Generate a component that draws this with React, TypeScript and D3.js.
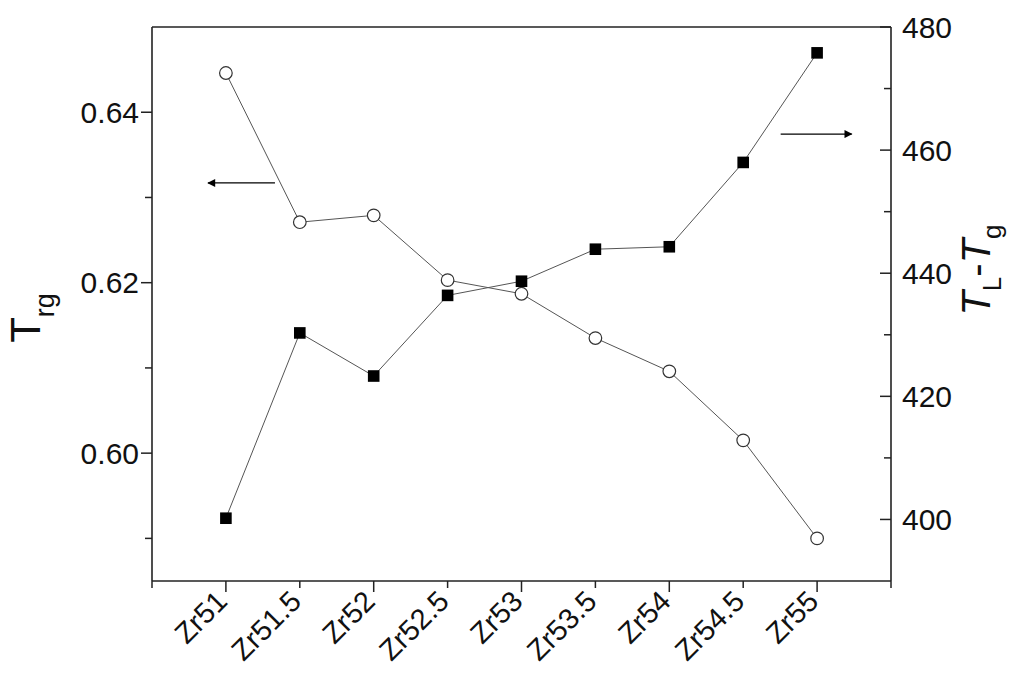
import React from "react";
import * as d3 from "d3";

const categories = ["Zr51", "Zr51.5", "Zr52", "Zr52.5", "Zr53", "Zr53.5", "Zr54", "Zr54.5", "Zr55"];
const trgValues = [0.6446, 0.6271, 0.6279, 0.6203, 0.6187, 0.6135, 0.6096, 0.6015, 0.59];
const dtValues = [400.2, 430.3, 423.3, 436.4, 438.7, 443.9, 444.3, 458.0, 475.8];
const leftMajorTicks = [0.6, 0.62, 0.64];
const leftMinorTicks = [0.59, 0.61, 0.63];
const rightMajorTicks = [400, 420, 440, 460, 480];
const rightMinorTicks = [410, 430, 450, 470];

const W = 1024;
const H = 697;
const M = { left: 152, right: 891, top: 27, bottom: 581 };
const FONT = "'Liberation Sans', Arial, sans-serif";

export default function App() {
  const x = d3.scaleLinear().domain([-1, categories.length]).range([M.left, M.right]);
  const yL = d3.scaleLinear().domain([0.585, 0.65]).range([M.bottom, M.top]);
  const yR = d3.scaleLinear().domain([390, 480]).range([M.bottom, M.top]);

  const lineL = d3.line<number>().x((_, i) => x(i)).y((d) => yL(d));
  const lineR = d3.line<number>().x((_, i) => x(i)).y((d) => yR(d));

  const xTicks = d3.range(-1, categories.length + 1);

  return (
    <svg width={W} height={H} style={{ position: "absolute", left: 0, top: 0, background: "#fff" }} fontFamily={FONT}>
      <defs>
        <marker id="ah" viewBox="0 0 10 10" refX="9" refY="5" markerWidth="14" markerHeight="8" markerUnits="userSpaceOnUse" orient="auto">
          <path d="M0,0 L10,5 L0,10 z" fill="#000" />
        </marker>
      </defs>

      {/* frame */}
      <line x1={M.left} x2={M.right} y1={M.top} y2={M.top} stroke="#222" strokeWidth={1.6} />
      <line x1={M.left} x2={M.right} y1={M.bottom} y2={M.bottom} stroke="#222" strokeWidth={1.6} />
      <line x1={M.left} x2={M.left} y1={M.top} y2={M.bottom} stroke="#222" strokeWidth={1.6} />
      <line x1={M.right} x2={M.right} y1={M.top} y2={M.bottom} stroke="#222" strokeWidth={1.6} />

      {/* x ticks */}
      {xTicks.map((t) => {
        const major = t % 2 === 0;
        return <line key={"xt" + t} x1={x(t)} x2={x(t)} y1={M.bottom} y2={M.bottom + (major ? 11 : 7)} stroke="#222" strokeWidth={1.5} />;
      })}
      {categories.map((c, i) => (
        <text key={c} transform={`translate(${x(i) + 3},${M.bottom + 22}) rotate(-45)`} textAnchor="end" fontSize={29} fill="#111">
          {c}
        </text>
      ))}

      {/* left axis */}
      {leftMajorTicks.map((t) => (
        <g key={"lt" + t}>
          <line x1={M.left - 11} x2={M.left} y1={yL(t)} y2={yL(t)} stroke="#222" strokeWidth={1.5} />
          <text x={M.left - 13} y={yL(t)} dy="0.36em" textAnchor="end" fontSize={30} fill="#111">
            {d3.format(".2f")(t)}
          </text>
        </g>
      ))}
      {leftMinorTicks.map((t) => (
        <line key={"lm" + t} x1={M.left - 7} x2={M.left} y1={yL(t)} y2={yL(t)} stroke="#222" strokeWidth={1.5} />
      ))}

      {/* right axis */}
      {rightMajorTicks.map((t) => (
        <g key={"rt" + t}>
          <line x1={M.right} x2={M.right - 11} y1={yR(t)} y2={yR(t)} stroke="#222" strokeWidth={1.5} />
          <text x={M.right + 11} y={yR(t)} dy="0.36em" textAnchor="start" fontSize={30} fill="#111">
            {t}
          </text>
        </g>
      ))}
      {rightMinorTicks.map((t) => (
        <line key={"rm" + t} x1={M.right} x2={M.right - 7} y1={yR(t)} y2={yR(t)} stroke="#222" strokeWidth={1.5} />
      ))}

      {/* axis titles */}
      <text transform={`translate(40,318) rotate(-90)`} textAnchor="middle" fontSize={42} fill="#111">
        T<tspan fontSize={27} dy="14">rg</tspan>
      </text>
      <text transform={`translate(990,270) rotate(-90)`} textAnchor="middle" fontSize={40} fill="#111">
        <tspan fontStyle="italic">T</tspan>
        <tspan fontSize={26} dy="11">L</tspan>
        <tspan dy="-11">-</tspan>
        <tspan fontStyle="italic">T</tspan>
        <tspan fontSize={26} dy="11">g</tspan>
      </text>

      {/* lines */}
      <path d={lineL(trgValues) || ""} fill="none" stroke="#555" strokeWidth={1} />
      <path d={lineR(dtValues) || ""} fill="none" stroke="#555" strokeWidth={1} />

      {/* markers */}
      {trgValues.map((v, i) => (
        <circle key={"c" + i} cx={x(i)} cy={yL(v)} r={6.3} fill="#fff" stroke="#333" strokeWidth={1.2} />
      ))}
      {dtValues.map((v, i) => (
        <rect key={"s" + i} x={x(i) - 5.8} y={yR(v) - 5.8} width={11.6} height={11.6} fill="#000" />
      ))}

      {/* arrows */}
      <line x1={x(0.664)} x2={x(-0.242)} y1={yL(0.6317)} y2={yL(0.6317)} stroke="#000" strokeWidth={1.3} markerEnd="url(#ah)" />
      <line x1={x(7.507)} x2={x(8.468)} y1={yR(462.6)} y2={yR(462.6)} stroke="#000" strokeWidth={1.3} markerEnd="url(#ah)" />
    </svg>
  );
}
